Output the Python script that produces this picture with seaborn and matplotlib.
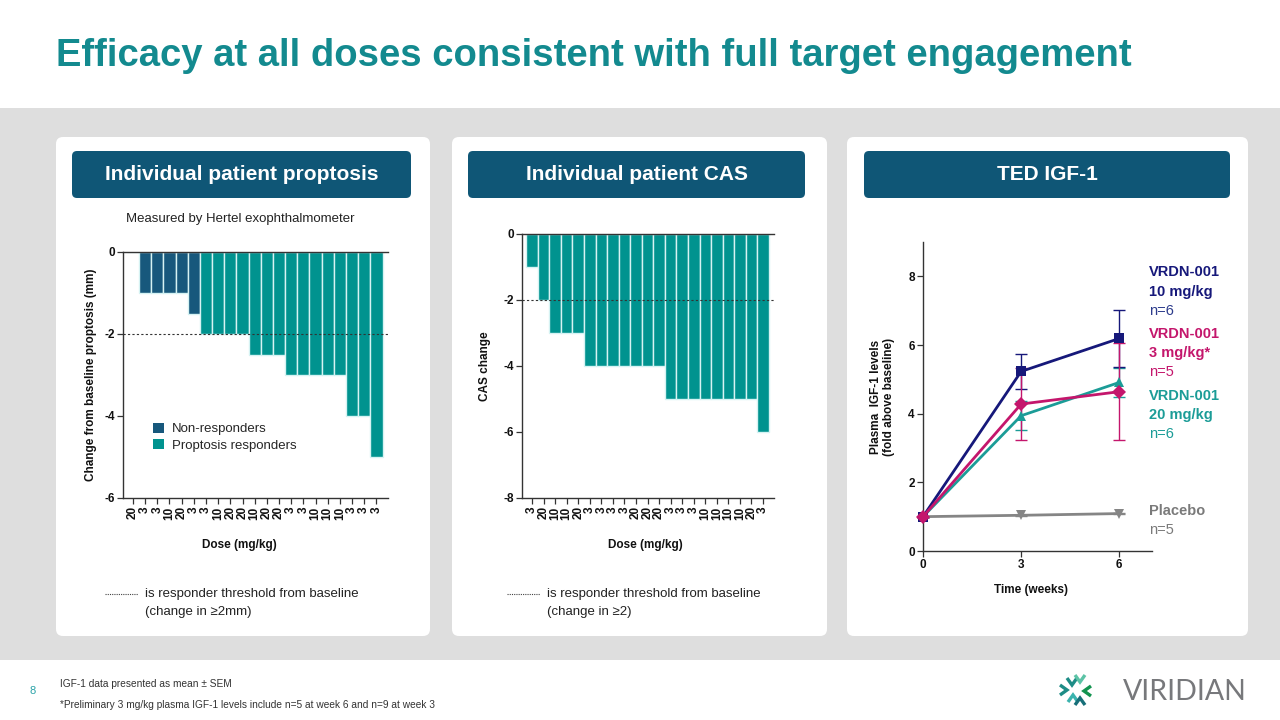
import numpy as np
import pandas as pd
import matplotlib
matplotlib.use("Agg")
import matplotlib.pyplot as plt
import seaborn as sns
from matplotlib.patches import FancyBboxPatch, Rectangle, Patch
from matplotlib.lines import Line2D

# ---------------- data ----------------
prop_dose = ['20', '3', '3', '10', '20', '3', '3', '10', '20', '20', '10',
             '20', '20', '3', '3', '10', '10', '10', '3', '3', '3']
prop_change = [0, -1, -1, -1, -1, -1.5, -2, -2, -2, -2, -2.5,
               -2.5, -2.5, -3, -3, -3, -3, -3, -4, -4, -5]
prop_group = ['Non-responders'] * 6 + ['Proptosis responders'] * 15

cas_dose = ['3', '20', '10', '10', '20', '3', '3', '3', '3', '20', '20',
            '20', '3', '3', '3', '10', '10', '10', '10', '20', '3']
cas_change = [-1, -2, -3, -3, -3, -4, -4, -4, -4, -4, -4,
              -4, -5, -5, -5, -5, -5, -5, -5, -5, -6]

igf_weeks = [0, 3, 6]
igf_10 = [1.0, 5.23, 6.19]
igf_10_sem = [0.0, 0.50, 0.84]
igf_3 = [1.0, 4.28, 4.64]
igf_3_sem = [0.0, 1.06, 1.42]
igf_20 = [1.0, 3.94, 4.91]
igf_20_sem = [0.0, 0.42, 0.43]
igf_pl = [1.0, 1.04, 1.09]
igf_pl_sem = [0.0, 0.02, 0.02]

# ---------------- style ----------------
sns.set_theme(style="white")
plt.rcParams['font.family'] = ['Liberation Sans', 'DejaVu Sans']

W, H = 1280, 720
TEAL_T = '#138a8f'
HEAD = '#0f5676'
BAR_T = '#00938f'
BAR_D = '#17587c'
NAVY = '#16187a'
MAG = '#c4166c'
TEALL = '#1b9c97'
GREY = '#858585'
AX = '#333333'

fig = plt.figure(figsize=(12.8, 7.2), dpi=100)
bg = fig.add_axes([0, 0, 1, 1], zorder=-5)
bg.set_xlim(0, W)
bg.set_ylim(H, 0)
bg.axis('off')

bg.add_patch(Rectangle((0, 108), W, 552, color='#dedede', lw=0))
for x0, x1 in [(56, 430), (452, 827), (847, 1248)]:
    bg.add_patch(FancyBboxPatch((x0, 137), x1 - x0, 499,
                                boxstyle="round,pad=0,rounding_size=7",
                                fc='white', ec='none'))
for (x0, x1), t in zip([(72, 411), (468, 805), (864, 1230)],
                       ['Individual patient proptosis', 'Individual patient CAS', 'TED IGF-1']):
    bg.add_patch(FancyBboxPatch((x0, 151), x1 - x0, 47,
                                boxstyle="round,pad=0,rounding_size=5",
                                fc=HEAD, ec='none'))
    bg.text((x0 + x1) / 2, 175, t, color='white', fontsize=15,
            fontweight='bold', ha='center', va='center')

bg.text(56, 56, 'Efficacy at all doses consistent with full target engagement',
        color=TEAL_T, fontsize=27.5, fontweight='bold', ha='left', va='center')

bg.text(240, 219, 'Measured by Hertel exophthalmometer', fontsize=9.5,
        color='#222222', ha='center', va='center')

# threshold legends
for lx, t2 in [(105, '(change in ≥2mm)'), (507, '(change in ≥2)')]:
    bg.add_line(Line2D([lx, lx + 33], [594, 594], color='#444444', lw=0.8,
                       ls=(0, (1, 1))))
    bg.text(lx + 40, 594, 'is responder threshold from baseline', fontsize=9.5,
            color='#222222', va='center', ha='left')
    bg.text(lx + 40, 612, t2, fontsize=9.5, color='#222222', va='center', ha='left')

# footer
bg.text(33, 691, '8', color='#2aa3a8', fontsize=8, ha='center', va='center')
bg.text(60, 684, 'IGF-1 data presented as mean ± SEM', fontsize=7.3,
        color='#333333', va='center')
bg.text(60, 705, '*Preliminary 3 mg/kg plasma IGF-1 levels include n=5 at week 6 and n=9 at week 3',
        fontsize=7.3, color='#333333', va='center')
bg.text(1185, 692, 'VIRIDIAN', fontsize=20.5, color='#77787b', ha='center',
        va='center', family=['Lato', 'DejaVu Sans'], fontweight='normal')
# logo chevrons
cx, cy = 1076, 690


def chev(tipx, tipy, dx, dy, col):
    px, py = -dy, dx
    a = (tipx - 7 * dx + 5 * px, tipy - 7 * dy + 5 * py)
    b = (tipx - 7 * dx - 5 * px, tipy - 7 * dy - 5 * py)
    bg.add_line(Line2D([a[0], tipx, b[0]], [a[1], tipy, b[1]], color=col, lw=2.4,
                       solid_capstyle='butt', solid_joinstyle='miter'))


chev(cx - 4, cy - 5, 0.0, 1.0, '#1e8c86')
chev(cx + 4, cy - 8, 0.0, 1.0, '#5cc3a6')
chev(cx + 8, cy + 1, -1.0, 0.0, '#12934f')
chev(cx - 3, cy + 5, 0.0, -1.0, '#3bb3ae')
chev(cx + 4, cy + 8, 0.0, -1.0, '#176f79')
chev(cx - 9, cy, 1.0, 0.0, '#1e8c86')


def add_ax(l, r, t, b):
    a = fig.add_axes([l / W, 1 - b / H, (r - l) / W, (b - t) / H])
    a.patch.set_visible(False)
    return a


def style_ax(ax):
    ax.spines['right'].set_visible(False)
    for s in ['left', 'bottom', 'top']:
        ax.spines[s].set_color(AX)
        ax.spines[s].set_linewidth(1.0)
    ax.tick_params(axis='both', which='both', direction='out', length=4,
                   width=0.9, color=AX, labelsize=8.5, labelcolor='#111111',
                   left=True, bottom=True, pad=2)
    for lab in ax.get_xticklabels() + ax.get_yticklabels():
        lab.set_fontweight('bold')


# ---------------- chart 1: proptosis ----------------
ax1 = add_ax(123, 388, 252, 498)
df1 = pd.DataFrame({'pid': [f'P{i}' for i in range(len(prop_change))],
                    'change': prop_change, 'group': prop_group})
sns.barplot(data=df1, x='pid', y='change', hue='group', dodge=False, width=1.0,
            palette={'Non-responders': BAR_D, 'Proptosis responders': BAR_T},
            edgecolor='#d6f3f3', linewidth=1.0, ax=ax1, legend=False, saturation=1)
ax1.axhline(-2, color=AX, lw=0.8, ls=(0, (2, 2)), zorder=5)
ax1.set_ylim(-6, 0)
ax1.set_xlim(-0.82, 20.95)
ax1.set_yticks([0, -2, -4, -6])
ax1.set_yticklabels(['0', '-2', '-4', '-6'])
ax1.set_xticks(range(len(prop_dose)))
ax1.set_xticklabels(prop_dose, rotation=90)
style_ax(ax1)
ax1.set_ylabel('Change from baseline proptosis (mm)', fontsize=8.5,
               fontweight='bold', color='#111111', va='center')
ax1.yaxis.set_label_coords(-0.12, 0.5)
ax1.set_xlabel('Dose (mg/kg)', fontsize=8.5, fontweight='bold', color='#111111',
               va='center')
ax1.xaxis.set_label_coords(0.44, -0.191)
ax1.legend(handles=[Patch(fc=BAR_D, ec='none'), Patch(fc=BAR_T, ec='none')],
           labels=['Non-responders', 'Proptosis responders'],
           loc='upper left', bbox_to_anchor=(146 / W, 1 - 416 / H),
           bbox_transform=fig.transFigure, frameon=False, fontsize=9.5,
           handlelength=0.85, handleheight=0.85, handletextpad=0.6,
           labelspacing=0.25, borderpad=0)

# ---------------- chart 2: CAS ----------------
ax2 = add_ax(522, 774, 234, 498)
df2 = pd.DataFrame({'pid': [f'C{i}' for i in range(len(cas_change))],
                    'change': cas_change})
sns.barplot(data=df2, x='pid', y='change', color=BAR_T, width=1.0,
            edgecolor='#d6f3f3', linewidth=1.0, ax=ax2, saturation=1)
ax2.axhline(-2, color=AX, lw=0.8, ls=(0, (2, 2)), zorder=5)
ax2.set_ylim(-8, 0)
ax2.set_xlim(-0.87, 20.95)
ax2.set_yticks([0, -2, -4, -6, -8])
ax2.set_yticklabels(['0', '-2', '-4', '-6', '-8'])
ax2.set_xticks(range(len(cas_dose)))
ax2.set_xticklabels(cas_dose, rotation=90)
style_ax(ax2)
ax2.set_ylabel('CAS change', fontsize=8.5, fontweight='bold', color='#111111',
               va='center')
ax2.yaxis.set_label_coords(-0.147, 0.5)
ax2.set_xlabel('Dose (mg/kg)', fontsize=8.5, fontweight='bold', color='#111111',
               va='center')
ax2.xaxis.set_label_coords(0.488, -0.178)

# ---------------- chart 3: IGF-1 ----------------
ax3 = add_ax(923, 1152, 242, 551)
series = [('Placebo', igf_pl, igf_pl_sem, GREY, 'v'),
          ('20 mg/kg', igf_20, igf_20_sem, TEALL, '^'),
          ('10 mg/kg', igf_10, igf_10_sem, NAVY, 's'),
          ('3 mg/kg', igf_3, igf_3_sem, MAG, 'D')]
rows = []
for name, vals, sem, col, mk in series:
    for w, v, s in zip(igf_weeks, vals, sem):
        rows.append({'week': w, 'value': v, 'sem': s, 'grp': name})
df3 = pd.DataFrame(rows)
order = [s[0] for s in series]
pal = {s[0]: s[3] for s in series}
mks = {s[0]: s[4] for s in series}
for name, vals, sem, col, mk in series:
    sub = df3[df3.grp == name]
    ax3.errorbar(sub.week, sub.value, yerr=sub['sem'], fmt='none', ecolor=col,
                 elinewidth=1.0, capsize=4, capthick=1.0, zorder=3, clip_on=False)
sns.lineplot(data=df3, x='week', y='value', hue='grp', style='grp',
             hue_order=order, style_order=order, palette=pal, markers=mks,
             dashes=False, linewidth=2, markersize=7, markeredgewidth=0,
             ax=ax3, legend=False, errorbar=None, zorder=4, clip_on=False)
ax3.set_xlim(0, 7)
ax3.set_ylim(0, 9)
ax3.set_xticks([0, 3, 6])
ax3.set_yticks([0, 2, 4, 6, 8])
style_ax(ax3)
ax3.spines['top'].set_visible(False)
ax3.set_ylabel('Plasma  IGF-1 levels\n(fold above baseline)', fontsize=8.5,
               fontweight='bold', color='#111111', va='center', linespacing=1.1)
ax3.yaxis.set_label_coords(-0.175, 0.5)
ax3.set_xlabel('Time (weeks)', fontsize=8.5, fontweight='bold', color='#111111',
               va='center')
ax3.xaxis.set_label_coords(0.472, -0.126)

labels = [(272, 'VRDN-001', NAVY, True), (292, '10 mg/kg', NAVY, True), (311, 'n=6', '#2d3c8c', False),
          (334, 'VRDN-001', MAG, True), (353, '3 mg/kg*', MAG, True), (372, 'n=5', MAG, False),
          (396, 'VRDN-001', TEALL, True), (415, '20 mg/kg', TEALL, True), (434, 'n=6', TEALL, False),
          (511, 'Placebo', '#7a7a7a', True), (530, 'n=5', '#7a7a7a', False)]
for y, t, c, b in labels:
    bg.text(1149, y, t, color=c, fontsize=10.5, fontweight='bold' if b else 'normal',
            ha='left', va='center')

fig.savefig('out.png', dpi=100)
